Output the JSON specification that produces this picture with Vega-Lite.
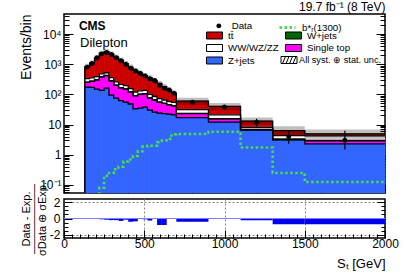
{
  "$schema": "https://vega.github.io/schema/vega-lite/v6.json",
  "padding": {"left": 18, "top": 0, "right": 5, "bottom": 2},
  "background": "white",
  "config": {
    "font": "Liberation Sans",
    "view": {"stroke": "black", "strokeWidth": 1.5},
    "axis": {"domain": false, "grid": false, "labelFont": "Liberation Sans", "titleFont": "Liberation Sans", "labelColor": "black", "titleColor": "black", "tickColor": "black", "labelFontSize": 12, "titleFontWeight": "normal", "labelOverlap": false, "labelFlush": false},
    "legend": {"orient": "none", "title": null, "labelFont": "Liberation Sans", "labelFontSize": 9.7, "labelColor": "black", "symbolSize": 100, "labelOffset": 8, "rowPadding": 1.5, "columnPadding": 4, "padding": 0}
  },
  "datasets": {
    "mc": [
      {"lo":130,"hi":160,"process":"Z+jets","k":1,"v":175},{"lo":130,"hi":160,"process":"Single top","k":2,"v":75},{"lo":130,"hi":160,"process":"W+jets","k":3,"v":2},{"lo":130,"hi":160,"process":"WW/WZ/ZZ","k":4,"v":78},{"lo":130,"hi":160,"process":"tt\u0304","k":5,"v":520},
      {"lo":160,"hi":190,"process":"Z+jets","k":1,"v":170},{"lo":160,"hi":190,"process":"Single top","k":2,"v":100},{"lo":160,"hi":190,"process":"W+jets","k":3,"v":2},{"lo":160,"hi":190,"process":"WW/WZ/ZZ","k":4,"v":78},{"lo":160,"hi":190,"process":"tt\u0304","k":5,"v":750},
      {"lo":190,"hi":220,"process":"Z+jets","k":1,"v":150},{"lo":190,"hi":220,"process":"Single top","k":2,"v":150},{"lo":190,"hi":220,"process":"W+jets","k":3,"v":2},{"lo":190,"hi":220,"process":"WW/WZ/ZZ","k":4,"v":88},{"lo":190,"hi":220,"process":"tt\u0304","k":5,"v":1210},
      {"lo":220,"hi":250,"process":"Z+jets","k":1,"v":135},{"lo":220,"hi":250,"process":"Single top","k":2,"v":245},{"lo":220,"hi":250,"process":"W+jets","k":3,"v":3},{"lo":220,"hi":250,"process":"WW/WZ/ZZ","k":4,"v":97},{"lo":220,"hi":250,"process":"tt\u0304","k":5,"v":1820},
      {"lo":250,"hi":280,"process":"Z+jets","k":1,"v":160},{"lo":250,"hi":280,"process":"Single top","k":2,"v":260},{"lo":250,"hi":280,"process":"W+jets","k":3,"v":3},{"lo":250,"hi":280,"process":"WW/WZ/ZZ","k":4,"v":97},{"lo":250,"hi":280,"process":"tt\u0304","k":5,"v":2080},
      {"lo":280,"hi":310,"process":"Z+jets","k":1,"v":95},{"lo":280,"hi":310,"process":"Single top","k":2,"v":185},{"lo":280,"hi":310,"process":"W+jets","k":3,"v":2},{"lo":280,"hi":310,"process":"WW/WZ/ZZ","k":4,"v":78},{"lo":280,"hi":310,"process":"tt\u0304","k":5,"v":1840},
      {"lo":310,"hi":340,"process":"Z+jets","k":1,"v":75},{"lo":310,"hi":340,"process":"Single top","k":2,"v":125},{"lo":310,"hi":340,"process":"W+jets","k":3,"v":2},{"lo":310,"hi":340,"process":"WW/WZ/ZZ","k":4,"v":58},{"lo":310,"hi":340,"process":"tt\u0304","k":5,"v":1440},
      {"lo":340,"hi":370,"process":"Z+jets","k":1,"v":62},{"lo":340,"hi":370,"process":"Single top","k":2,"v":103},{"lo":340,"hi":370,"process":"W+jets","k":3,"v":2},{"lo":340,"hi":370,"process":"WW/WZ/ZZ","k":4,"v":48},{"lo":340,"hi":370,"process":"tt\u0304","k":5,"v":1135},
      {"lo":370,"hi":400,"process":"Z+jets","k":1,"v":55},{"lo":370,"hi":400,"process":"Single top","k":2,"v":95},{"lo":370,"hi":400,"process":"W+jets","k":3,"v":1},{"lo":370,"hi":400,"process":"WW/WZ/ZZ","k":4,"v":44},{"lo":370,"hi":400,"process":"tt\u0304","k":5,"v":855},
      {"lo":400,"hi":430,"process":"Z+jets","k":1,"v":48},{"lo":400,"hi":430,"process":"Single top","k":2,"v":72},{"lo":400,"hi":430,"process":"W+jets","k":3,"v":1},{"lo":400,"hi":430,"process":"WW/WZ/ZZ","k":4,"v":34},{"lo":400,"hi":430,"process":"tt\u0304","k":5,"v":645},
      {"lo":430,"hi":460,"process":"Z+jets","k":1,"v":33},{"lo":430,"hi":460,"process":"Single top","k":2,"v":57},{"lo":430,"hi":460,"process":"W+jets","k":3,"v":1},{"lo":430,"hi":460,"process":"WW/WZ/ZZ","k":4,"v":29},{"lo":430,"hi":460,"process":"tt\u0304","k":5,"v":500},
      {"lo":460,"hi":490,"process":"Z+jets","k":1,"v":35},{"lo":460,"hi":490,"process":"Single top","k":2,"v":65},{"lo":460,"hi":490,"process":"W+jets","k":3,"v":1},{"lo":460,"hi":490,"process":"WW/WZ/ZZ","k":4,"v":29},{"lo":460,"hi":490,"process":"tt\u0304","k":5,"v":370},
      {"lo":490,"hi":520,"process":"Z+jets","k":1,"v":38},{"lo":490,"hi":520,"process":"Single top","k":2,"v":67},{"lo":490,"hi":520,"process":"W+jets","k":3,"v":1},{"lo":490,"hi":520,"process":"WW/WZ/ZZ","k":4,"v":29},{"lo":490,"hi":520,"process":"tt\u0304","k":5,"v":285},
      {"lo":520,"hi":550,"process":"Z+jets","k":1,"v":30},{"lo":520,"hi":550,"process":"Single top","k":2,"v":45},{"lo":520,"hi":550,"process":"W+jets","k":3,"v":1},{"lo":520,"hi":550,"process":"WW/WZ/ZZ","k":4,"v":24},{"lo":520,"hi":550,"process":"tt\u0304","k":5,"v":250},
      {"lo":550,"hi":580,"process":"Z+jets","k":1,"v":26},{"lo":550,"hi":580,"process":"Single top","k":2,"v":39},{"lo":550,"hi":580,"process":"W+jets","k":3,"v":0.5},{"lo":550,"hi":580,"process":"WW/WZ/ZZ","k":4,"v":19.5},{"lo":550,"hi":580,"process":"tt\u0304","k":5,"v":205},
      {"lo":580,"hi":610,"process":"Z+jets","k":1,"v":24},{"lo":580,"hi":610,"process":"Single top","k":2,"v":31},{"lo":580,"hi":610,"process":"W+jets","k":3,"v":0.5},{"lo":580,"hi":610,"process":"WW/WZ/ZZ","k":4,"v":16.5},{"lo":580,"hi":610,"process":"tt\u0304","k":5,"v":158},
      {"lo":610,"hi":640,"process":"Z+jets","k":1,"v":23},{"lo":610,"hi":640,"process":"Single top","k":2,"v":27},{"lo":610,"hi":640,"process":"W+jets","k":3,"v":0.5},{"lo":610,"hi":640,"process":"WW/WZ/ZZ","k":4,"v":14.5},{"lo":610,"hi":640,"process":"tt\u0304","k":5,"v":115},
      {"lo":640,"hi":670,"process":"Z+jets","k":1,"v":22},{"lo":640,"hi":670,"process":"Single top","k":2,"v":23},{"lo":640,"hi":670,"process":"W+jets","k":3,"v":0.5},{"lo":640,"hi":670,"process":"WW/WZ/ZZ","k":4,"v":12.5},{"lo":640,"hi":670,"process":"tt\u0304","k":5,"v":82},
      {"lo":670,"hi":700,"process":"Z+jets","k":1,"v":21},{"lo":670,"hi":700,"process":"Single top","k":2,"v":21},{"lo":670,"hi":700,"process":"W+jets","k":3,"v":0.5},{"lo":670,"hi":700,"process":"WW/WZ/ZZ","k":4,"v":11.5},{"lo":670,"hi":700,"process":"tt\u0304","k":5,"v":56},
      {"lo":700,"hi":900,"process":"Z+jets","k":1,"v":17},{"lo":700,"hi":900,"process":"Single top","k":2,"v":6},{"lo":700,"hi":900,"process":"W+jets","k":3,"v":0.3},{"lo":700,"hi":900,"process":"WW/WZ/ZZ","k":4,"v":7.7},{"lo":700,"hi":900,"process":"tt\u0304","k":5,"v":29},
      {"lo":900,"hi":1100,"process":"Z+jets","k":1,"v":12},{"lo":900,"hi":1100,"process":"Single top","k":2,"v":3.5},{"lo":900,"hi":1100,"process":"W+jets","k":3,"v":0.2},{"lo":900,"hi":1100,"process":"WW/WZ/ZZ","k":4,"v":5.3},{"lo":900,"hi":1100,"process":"tt\u0304","k":5,"v":19},
      {"lo":1100,"hi":1300,"process":"Z+jets","k":1,"v":6.6},{"lo":1100,"hi":1300,"process":"Single top","k":2,"v":0.2},{"lo":1100,"hi":1300,"process":"W+jets","k":3,"v":0.1},{"lo":1100,"hi":1300,"process":"WW/WZ/ZZ","k":4,"v":1.2},{"lo":1100,"hi":1300,"process":"tt\u0304","k":5,"v":4.9},
      {"lo":1300,"hi":1500,"process":"Z+jets","k":1,"v":3.1},{"lo":1300,"hi":1500,"process":"Single top","k":2,"v":0.1},{"lo":1300,"hi":1500,"process":"W+jets","k":3,"v":0.1},{"lo":1300,"hi":1500,"process":"WW/WZ/ZZ","k":4,"v":1.0},{"lo":1300,"hi":1500,"process":"tt\u0304","k":5,"v":2.0},
      {"lo":1500,"hi":2000,"process":"Z+jets","k":1,"v":2.3},{"lo":1500,"hi":2000,"process":"Single top","k":2,"v":0.6},{"lo":1500,"hi":2000,"process":"W+jets","k":3,"v":0.1},{"lo":1500,"hi":2000,"process":"WW/WZ/ZZ","k":4,"v":1.2},{"lo":1500,"hi":2000,"process":"tt\u0304","k":5,"v":0.7}
    ],
    "bins": [
      {"lo":130,"hi":160,"mid":145,"data":800,"elo":772,"ehi":828,"ulo":680,"uhi":1040,"sig":0.01,"ratio":0.05},
      {"lo":160,"hi":190,"mid":175,"data":1050,"elo":1018,"ehi":1082,"ulo":880,"uhi":1340,"sig":0.02,"ratio":0.05},
      {"lo":190,"hi":220,"mid":205,"data":1650,"elo":1609,"ehi":1691,"ulo":1280,"uhi":1950,"sig":0.045,"ratio":0.05},
      {"lo":220,"hi":250,"mid":235,"data":2200,"elo":2153,"ehi":2247,"ulo":1840,"uhi":2800,"sig":0.08,"ratio":-0.1},
      {"lo":250,"hi":280,"mid":265,"data":2450,"elo":2400,"ehi":2500,"ulo":2080,"uhi":3170,"sig":0.2,"ratio":-0.15},
      {"lo":280,"hi":310,"mid":295,"data":2100,"elo":2054,"ehi":2146,"ulo":1760,"uhi":2680,"sig":0.25,"ratio":-0.2},
      {"lo":310,"hi":340,"mid":325,"data":1650,"elo":1609,"ehi":1691,"ulo":1360,"uhi":2070,"sig":0.33,"ratio":-0.2},
      {"lo":340,"hi":370,"mid":355,"data":1300,"elo":1264,"ehi":1336,"ulo":1080,"uhi":1650,"sig":0.4,"ratio":-0.3},
      {"lo":370,"hi":400,"mid":385,"data":1000,"elo":968,"ehi":1032,"ulo":840,"uhi":1280,"sig":0.6,"ratio":-0.15},
      {"lo":400,"hi":430,"mid":415,"data":740,"elo":713,"ehi":767,"ulo":640,"uhi":980,"sig":0.7,"ratio":-0.4},
      {"lo":430,"hi":460,"mid":445,"data":600,"elo":576,"ehi":624,"ulo":500,"uhi":760,"sig":0.9,"ratio":-0.35},
      {"lo":460,"hi":490,"mid":475,"data":500,"elo":478,"ehi":522,"ulo":400,"uhi":610,"sig":1.3,"ratio":0.0},
      {"lo":490,"hi":520,"mid":505,"data":410,"elo":390,"ehi":430,"ulo":336,"uhi":510,"sig":1.9,"ratio":-0.1},
      {"lo":520,"hi":550,"mid":535,"data":330,"elo":312,"ehi":348,"ulo":280,"uhi":430,"sig":2.0,"ratio":-0.25},
      {"lo":550,"hi":580,"mid":565,"data":290,"elo":273,"ehi":307,"ulo":232,"uhi":355,"sig":2.0,"ratio":0.0},
      {"lo":580,"hi":610,"mid":595,"data":200,"elo":186,"ehi":214,"ulo":184,"uhi":280,"sig":2.6,"ratio":-0.8},
      {"lo":610,"hi":640,"mid":625,"data":160,"elo":147,"ehi":173,"ulo":144,"uhi":220,"sig":3.0,"ratio":-0.8},
      {"lo":640,"hi":670,"mid":655,"data":140,"elo":128,"ehi":152,"ulo":112,"uhi":170,"sig":3.3,"ratio":0.05},
      {"lo":670,"hi":700,"mid":685,"data":110,"elo":100,"ehi":120,"ulo":88,"uhi":134,"sig":4.8,"ratio":0.05},
      {"lo":700,"hi":900,"mid":800,"data":55,"elo":48,"ehi":62,"ulo":45,"uhi":78,"sig":4.9,"ratio":-0.4},
      {"lo":900,"hi":1100,"mid":1000,"data":38,"elo":32,"ehi":44,"ulo":30,"uhi":52,"sig":5.8,"ratio":-0.05},
      {"lo":1100,"hi":1300,"mid":1200,"data":12,"elo":8.7,"ehi":15.5,"ulo":9.8,"uhi":17,"sig":1.75,"ratio":-0.2},
      {"lo":1300,"hi":1500,"mid":1400,"data":4,"elo":2.3,"ehi":6.3,"ulo":4.4,"uhi":8.8,"sig":0.25,"ratio":-0.7},
      {"lo":1500,"hi":2000,"mid":1750,"data":3,"elo":1.5,"ehi":6.2,"ulo":3.4,"uhi":6.9,"sig":0.125,"ratio":-0.7}
    ]
  },
  "spacing": 6,
  "bounds": "flush",
  "vconcat": [
    {
      "width": 321,
      "height": 179,
      "title": {"text": "19.7 fb\u207b\u00b9 (8 TeV)", "anchor": "end", "fontSize": 12, "fontWeight": "normal", "font": "Liberation Sans", "offset": -4},
      "resolve": {"axis": {"y": "independent"}},
      "layer": [
        {
          "data": {"name": "mc"},
          "transform": [{"stack": "v", "groupby": ["lo"], "sort": [{"field": "k", "order": "ascending"}], "as": ["c0", "c1"]}],
          "mark": {"type": "rect", "clip": true, "strokeWidth": 0.8,
            "stroke": {"expr": "datum.process === 'Z+jets' ? '#3366ff' : datum.process === 'Single top' ? '#ff00ff' : datum.process === 'W+jets' ? '#006600' : datum.process === 'WW/WZ/ZZ' ? '#ffffff' : datum.process ? '#cc0000' : 'black'"}},
          "encoding": {
            "x": {"field": "lo", "type": "quantitative", "scale": {"domain": [0, 2000], "nice": false, "zero": false},
              "axis": {"title": null, "labels": false, "values": [0,50,100,150,200,250,300,350,400,450,500,550,600,650,700,750,800,850,900,950,1000,1050,1100,1150,1200,1250,1300,1350,1400,1450,1500,1550,1600,1650,1700,1750,1800,1850,1900,1950,2000],
                "tickSize": {"condition": {"test": "datum.value % 500 === 0", "value": -8}, "value": -4}}},
            "x2": {"field": "hi"},
            "y": {"field": "c1", "type": "quantitative", "scale": {"type": "log", "domain": [0.054, 46000], "nice": false},
              "axis": {"title": "Events/bin", "titleFontSize": 14, "titleAnchor": "end", "titlePadding": 6, "labelPadding": 12,
                "values": [0.06,0.07,0.08,0.09,0.1,0.2,0.3,0.4,0.5,0.6,0.7,0.8,0.9,1,2,3,4,5,6,7,8,9,10,20,30,40,50,60,70,80,90,100,200,300,400,500,600,700,800,900,1000,2000,3000,4000,5000,6000,7000,8000,9000,10000,20000,30000,40000],
                "labelExpr": "datum.value === 0.1 ? '10\u207b\u00b9' : datum.value === 1 ? '1' : datum.value === 10 ? '10' : datum.value === 100 ? '10\u00b2' : datum.value === 1000 ? '10\u00b3' : datum.value === 10000 ? '10\u2074' : ''",
                "tickSize": {"condition": {"test": "indexof([0.1,1,10,100,1000,10000], datum.value) >= 0", "value": -9}, "value": -5}}},
            "y2": {"datum": 0.054},
            "color": {"field": "process", "type": "nominal",
              "scale": {"domain": ["tt\u0304", "WW/WZ/ZZ", "Z+jets", "W+jets", "Single top"],
                "range": ["#cc0000", "#ffffff", "#3366ff", "#006600", "#ff00ff"]},
              "legend": {"legendX": 145, "legendY": 16, "columns": 2, "symbolType": "M-1.6,-0.7H1.6V0.7H-1.6Z", "symbolStrokeColor": "black", "symbolStrokeWidth": 1}},
            "order": {"field": "k", "sort": "descending"}
          }
        },
        {
          "data": {"name": "bins"},
          "mark": {"type": "rect", "fill": "black", "opacity": 0.25, "clip": true},
          "encoding": {"x": {"field": "lo", "type": "quantitative"}, "x2": {"field": "hi"}, "y": {"field": "ulo", "type": "quantitative", "axis": null}, "y2": {"field": "uhi"}}
        },
        {
          "data": {"name": "mc"},
          "transform": [{"stack": "v", "groupby": ["lo"], "sort": [{"field": "k", "order": "ascending"}], "as": ["c0", "c1"]}, {"fold": ["lo", "hi"], "as": ["edgekind", "edge"]}],
          "mark": {"type": "line", "color": "black", "strokeWidth": 1.3, "clip": true},
          "encoding": {"x": {"field": "edge", "type": "quantitative"}, "y": {"field": "c1", "type": "quantitative", "axis": null}, "detail": {"field": "process"}, "order": [{"field": "edge", "type": "quantitative"}, {"field": "edgekind", "type": "nominal"}]}
        },
        {
          "data": {"name": "mc"},
          "transform": [{"stack": "v", "groupby": ["lo"], "sort": [{"field": "k", "order": "ascending"}], "as": ["c0", "c1"]}, {"filter": "datum.lo === 130 && datum.k === 5"}],
          "mark": {"type": "rule", "color": "black", "strokeWidth": 1.5, "clip": true},
          "encoding": {"x": {"field": "lo", "type": "quantitative"}, "y": {"field": "c1", "type": "quantitative", "axis": null}, "y2": {"datum": 0.054}}
        },
        {
          "data": {"name": "bins"},
          "transform": [{"fold": ["lo", "hi"], "as": ["edgekind", "edge"]}],
          "mark": {"type": "line", "color": "#44e044", "strokeWidth": 2.5, "clip": true},
          "encoding": {"x": {"field": "edge", "type": "quantitative"}, "y": {"field": "sig", "type": "quantitative", "axis": null}, "order": [{"field": "edge", "type": "quantitative"}, {"field": "edgekind", "type": "nominal"}],
            "strokeDash": {"datum": "b*\u1d63(1300)", "type": "nominal", "scale": {"range": [[2.5, 2.5]]},
              "legend": {"legendX": 217, "legendY": 7, "symbolType": "M-1.6,0H1.6", "symbolStrokeColor": "#44e044", "symbolStrokeWidth": 3}}}
        },
        {
          "data": {"name": "bins"},
          "mark": {"type": "rule", "color": "black", "strokeWidth": 1.2},
          "encoding": {"x": {"field": "mid", "type": "quantitative"}, "y": {"field": "elo", "type": "quantitative", "axis": null}, "y2": {"field": "ehi"},
            "strokeWidth": {"datum": "All syst. \u2295 stat. unc.", "type": "nominal", "scale": {"range": [1.2]},
              "legend": {"legendX": 235, "legendY": 46, "labelFontSize": 9.2, "symbolType": "M-3.6,-0.7H-0.4V0.7H-3.6Z M-3.3,0.7L-2.7,-0.7 M-2.6,0.7L-2.0,-0.7 M-1.9,0.7L-1.3,-0.7 M-1.2,0.7L-0.6,-0.7", "symbolFillColor": "white", "symbolStrokeColor": "black"}}}
        },
        {
          "data": {"name": "bins"},
          "mark": {"type": "point", "filled": true, "color": "black", "size": 30, "opacity": 1},
          "encoding": {"x": {"field": "mid", "type": "quantitative"},
            "y": {"field": "data", "type": "quantitative",
              "axis": {"orient": "right", "title": null, "labels": false,
                "values": [0.06,0.07,0.08,0.09,0.1,0.2,0.3,0.4,0.5,0.6,0.7,0.8,0.9,1,2,3,4,5,6,7,8,9,10,20,30,40,50,60,70,80,90,100,200,300,400,500,600,700,800,900,1000,2000,3000,4000,5000,6000,7000,8000,9000,10000,20000,30000,40000],
                "tickSize": {"condition": {"test": "indexof([0.1,1,10,100,1000,10000], datum.value) >= 0", "value": -9}, "value": -5}}},
            "shape": {"datum": "Data", "type": "nominal", "scale": {"range": ["M-3,0H3M0.9,0A0.9,0.9 0 1 1 -0.9,0A0.9,0.9 0 1 1 0.9,0Z"]},
              "legend": {"legendX": 150, "legendY": 7, "symbolFillColor": "black", "symbolStrokeColor": "black", "symbolStrokeWidth": 1.2, "symbolSize": 30}}}
        },
        {
          "data": {"values": [{}]},
          "mark": {"type": "text", "text": "CMS", "fontWeight": "bold", "fontSize": 12, "align": "left", "baseline": "alphabetic", "font": "Liberation Sans"},
          "encoding": {"x": {"datum": 93}, "y": {"datum": 13600, "axis": null}}
        },
        {
          "data": {"values": [{}]},
          "mark": {"type": "text", "text": "Dilepton", "fontSize": 13, "align": "left", "baseline": "alphabetic", "font": "Liberation Sans"},
          "encoding": {"x": {"datum": 100}, "y": {"datum": 3700, "axis": null}}
        }
      ]
    },
    {
      "width": 321,
      "height": 39,
      "data": {"name": "bins"},
      "resolve": {"axis": {"y": "independent"}},
      "layer": [
        {
          "mark": {"type": "rect", "color": "#0000ee"},
          "encoding": {
            "x": {"field": "lo", "type": "quantitative", "scale": {"domain": [0, 2000], "nice": false, "zero": false},
              "axis": {"title": "S\u209c [GeV]", "titleFontSize": 13, "titleAnchor": "end", "titlePadding": 4, "labelPadding": 8, "format": "d",
                "values": [0,50,100,150,200,250,300,350,400,450,500,550,600,650,700,750,800,850,900,950,1000,1050,1100,1150,1200,1250,1300,1350,1400,1450,1500,1550,1600,1650,1700,1750,1800,1850,1900,1950,2000],
                "labelExpr": "datum.value % 500 === 0 ? datum.label : ''",
                "tickSize": {"condition": {"test": "datum.value % 500 === 0", "value": -8}, "value": -4},
                "grid": true, "gridDash": [2, 2], "gridColor": "#888888",
                "gridOpacity": {"condition": {"test": "datum.value === 500 || datum.value === 1000 || datum.value === 1500", "value": 1}, "value": 0}}},
            "x2": {"field": "hi"},
            "y": {"field": "ratio", "type": "quantitative", "scale": {"domain": [-2.4, 2.4], "nice": false},
              "axis": {"title": ["Data - Exp.", "\u2500\u2500\u2500\u2500\u2500\u2500\u2500\u2500\u2500", "\u03c3Data \u2295 \u03c3Exp."], "titleFontSize": 11, "titleLineHeight": 8, "titlePadding": 2, "labelPadding": 12,
                "values": [-2, -1.5, -1, -0.5, 0, 0.5, 1, 1.5, 2],
                "labelExpr": "datum.value === 2 ? '2' : datum.value === 0 ? '0' : datum.value === -2 ? '-2' : ''",
                "tickSize": {"condition": {"test": "datum.value % 2 === 0", "value": -8}, "value": -4},
                "grid": true, "gridDash": [2, 2], "gridColor": "#888888",
                "gridOpacity": {"condition": {"test": "abs(datum.value) === 2", "value": 1}, "value": 0}}},
            "y2": {"datum": 0}
          }
        },
        {
          "mark": {"type": "rule", "color": "#8080ff", "strokeWidth": 1},
          "encoding": {"y": {"datum": 0, "type": "quantitative",
            "axis": {"orient": "right", "title": null, "labels": false, "values": [-2, -1.5, -1, -0.5, 0, 0.5, 1, 1.5, 2],
              "tickSize": {"condition": {"test": "datum.value % 2 === 0", "value": -8}, "value": -4}}}}
        }
      ]
    }
  ]
}
